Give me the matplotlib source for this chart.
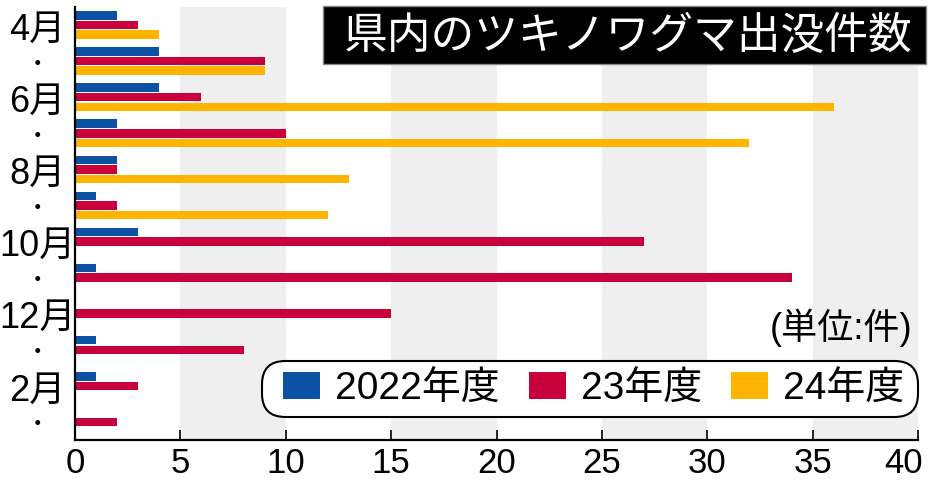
import numpy as np
import matplotlib.pyplot as plt
import matplotlib.transforms as mtransforms
from matplotlib.patches import Rectangle, FancyBboxPatch

plt.rcParams['font.family'] = ['Liberation Sans', 'Noto Sans CJK JP']

# months from April to March, labels only on every other one
months = ["4月", "・", "6月", "・", "8月", "・", "10月", "・", "12月", "・", "2月", "・"]
fy2022 = [2, 4, 4, 2, 2, 1, 3, 1, 0, 1, 1, 0]
fy2023 = [3, 9, 6, 10, 2, 2, 27, 34, 15, 8, 3, 2]
fy2024 = [4, 9, 36, 32, 13, 12, np.nan, np.nan, np.nan, np.nan, np.nan, np.nan]
series_names = ["2022年度", "23年度", "24年度"]
colors = ["#0b52a4", "#c8003c", "#ffb400"]
xticks = [0, 5, 10, 15, 20, 25, 30, 35, 40]

fig = plt.figure(figsize=(9.34, 4.85), dpi=100)
ax = fig.add_axes([75/934, 44/485, 843/934, 433/485])

y = np.arange(len(months))
h = 0.235
off = 0.265
bars = []
for i, (vals, c) in enumerate(zip([fy2022, fy2023, fy2024], colors)):
    b = ax.barh(y + (i - 1) * off, vals, height=h, color=c, zorder=2)
    bars.append(b)

#gray stripes every other 5
for x0 in range(5, 40, 10):
    ax.axvspan(x0, x0 + 5, color='#efefef', zorder=0, lw=0)

ax.set_xlim(0, 40)
ax.set_ylim(11.5, -0.5)
for s in ['top', 'right']:
    ax.spines[s].set_visible(False)
ax.spines['left'].set_linewidth(1.6)
ax.spines['bottom'].set_linewidth(1.6)
ax.spines['left'].set_zorder(5)

ax.set_xticks(xticks)
ax.set_xticklabels([str(t) for t in xticks])
ax.tick_params(axis='x', direction='in', length=7, width=1.2, labelsize=25, pad=4)
last = ax.get_xticklabels()[-1]
last.set_ha('right')
last.set_transform(last.get_transform() + mtransforms.ScaledTranslation(5/100, 0, fig.dpi_scale_trans))

# month labels centred left of the axis
ax.set_yticks(y)
ax.set_yticklabels(months, ha='center')
ax.tick_params(axis='y', length=0, labelsize=26, pad=27)
for lbl in ax.get_yticklabels():
    if lbl.get_text() == "・":
        lbl.set_fontsize(17)

# title box
fig.patches.append(Rectangle((323/934, (485-65)/485), 603/934, 58/485, transform=fig.transFigure,
                             facecolor='black', edgecolor='#888888', lw=1, zorder=10))
fig.text(628/934, (485-36)/485, "県内のツキノワグマ出没件数", color='white', fontsize=31.5,
         family='Noto Sans CJK JP', ha='center', va='center', zorder=11)

fig.text(912/934, (485-328)/485, "(単位:件)", fontsize=26, ha='right', va='center')

# legend with its own rounded box
ax.add_patch(FancyBboxPatch((262/934, (485-418)/485), 656/934, 56/485,
                            boxstyle='round,pad=0,rounding_size=0.025',
                            transform=fig.transFigure, facecolor='white',
                            edgecolor='black', lw=1.5, zorder=9, clip_on=False,
                            mutation_aspect=934/485))
leg = ax.legend([b[0] for b in bars], series_names, ncol=3, loc='center left',
                bbox_to_anchor=(283/934, (485-390)/485), bbox_transform=fig.transFigure,
                fontsize=28, handlelength=0.95, handleheight=0.67, handletextpad=0.39,
                columnspacing=0.75, borderpad=0, borderaxespad=0, frameon=False)
leg.set_zorder(10)

fig.savefig("out.png", dpi=100)
